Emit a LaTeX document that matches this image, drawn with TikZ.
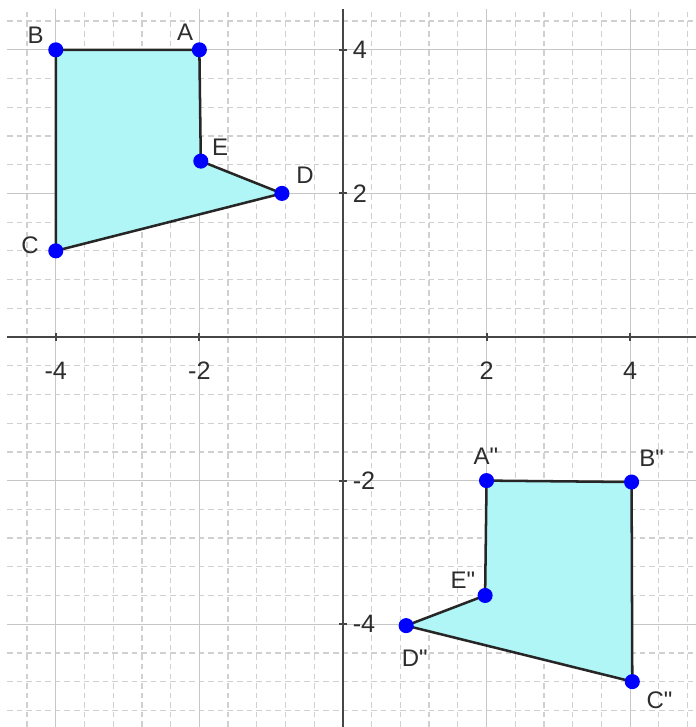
\documentclass[tikz,border=0pt]{standalone}
\usepackage{fontspec}
\setmainfont{Liberation Sans}
\newfontfamily\labfont{Liberation Sans}
\definecolor{polyfill}{RGB}{176,246,246}
\definecolor{gridmaj}{RGB}{198,198,198}
\definecolor{gridmin}{RGB}{208,208,208}
\definecolor{axiscol}{RGB}{70,70,70}
\definecolor{txt}{RGB}{45,45,45}
\begin{document}
\begin{tikzpicture}[
  minorgrid/.style={gridmin, line width=0.5pt, dash pattern=on 2.2pt off 1.6pt},
  majorgrid/.style={gridmaj, line width=0.45pt},
  axisline/.style={axiscol, line width=0.8pt},
  edgeline/.style={black!85, line width=1pt, line join=round},
  vdot/.style={circle, fill=blue, inner sep=0pt, minimum size=0.21cm},
  lbl/.style={text=txt, font=\labfont\fontsize{9.5}{11}\selectfont, inner sep=0pt},
  numlbl/.style={text=txt, font=\labfont\fontsize{10}{12}\selectfont, inner sep=0pt}
]
\useasboundingbox (-4.777,-5.432) rectangle (4.917,4.694);
\fill[white] (-4.777,-5.432) rectangle (4.917,4.694);
% grid
\draw[minorgrid] (-4.68,-5.432) grid[step=0.4] (4.917,4.57);
\draw[majorgrid] (-4.68,-5.432) grid[step=2] (4.917,4.57);
% axes
\draw[axisline] (-4.68,0) -- (4.917,0);
\draw[axisline] (0,-5.432) -- (0,4.57);
\foreach \t in {-4,-2,2,4} {
  \draw[axisline] (\t,-0.05) -- (\t,0.05);
  \draw[axisline] (-0.05,\t) -- (0.05,\t);
}
% tick labels
\foreach \t in {-4,-2,2,4} {
  \node[numlbl] (xl\t) at (\t,-0.47) {\t};
}
\foreach \t in {-4,-2,2,4} {
  \node[numlbl, anchor=west] (yl\t) at (0.13,\t) {\t};
}
% original polygon
\coordinate (A) at (-2,4);
\coordinate (B) at (-4,4);
\coordinate (C) at (-4,1.2);
\coordinate (D) at (-0.85,2);
\coordinate (E) at (-1.98,2.45);
% image polygon
\coordinate (A2) at (2,-2);
\coordinate (B2) at (4.02,-2.02);
\coordinate (C2) at (4.03,-4.8);
\coordinate (D2) at (0.88,-4.02);
\coordinate (E2) at (1.98,-3.6);
\fill[polyfill] (A) -- (B) -- (C) -- (D) -- (E) -- cycle;
\draw[edgeline] (A) -- (B) -- (C) -- (D) -- (E) -- cycle;
\fill[polyfill] (A2) -- (B2) -- (C2) -- (D2) -- (E2) -- cycle;
\draw[edgeline] (A2) -- (B2) -- (C2) -- (D2) -- (E2) -- cycle;
% vertices
\foreach \p in {A,B,C,D,E,A2,B2,C2,D2,E2} {
  \node[vdot] (p\p) at (\p) {};
}
% labels
\node[lbl] (lA) at (-2.2,4.25) {A};
\node[lbl] (lB) at (-4.28,4.21) {B};
\node[lbl] (lC) at (-4.36,1.28) {C};
\node[lbl] (lD) at (-0.53,2.26) {D};
\node[lbl] (lE) at (-1.71,2.65) {E};
\node[lbl] (lA2) at (1.99,-1.66) {A"};
\node[lbl] (lB2) at (4.3,-1.69) {B"};
\node[lbl] (lC2) at (4.41,-5.06) {C"};
\node[lbl] (lD2) at (1.0,-4.47) {D"};
\node[lbl] (lE2) at (1.67,-3.39) {E"};
\end{tikzpicture}
\end{document}
